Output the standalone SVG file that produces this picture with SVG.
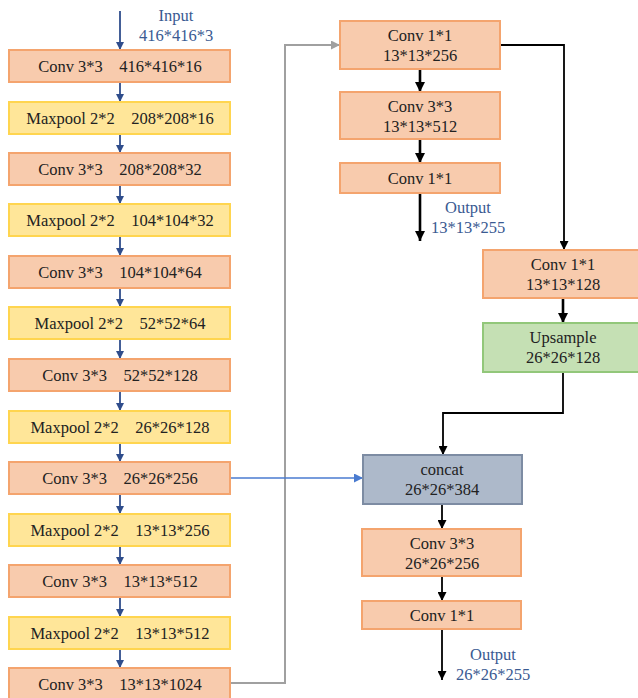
<svg xmlns="http://www.w3.org/2000/svg" width="638" height="698" viewBox="0 0 638 698">
<defs>
<style>
.t{font-family:"Liberation Serif","Times New Roman",serif;font-size:16.5px;fill:#222;text-anchor:middle;white-space:pre}
.lbl{font-family:"Liberation Serif","Times New Roman",serif;font-size:16.5px;fill:#3A5A92;text-anchor:middle}
.or{fill:#F8CBAD;stroke:#F4A46E;stroke-width:2}
.ye{fill:#FFE699;stroke:#FFD54F;stroke-width:2}
.gr{fill:#C5E0B4;stroke:#92C77A;stroke-width:2}
.ct{fill:#ADB9CA;stroke:#7D8CA3;stroke-width:2}
.ab{stroke:#2F4D8C;stroke-width:1.8;fill:none}
.ak{stroke:#000;stroke-width:2.6;fill:none}
.ak2{stroke:#000;stroke-width:1.8;fill:none}
.ag{stroke:#A0A0A0;stroke-width:2;fill:none}
.al{stroke:#4A7BD0;stroke-width:1.5;fill:none}
</style>
<marker id="mb" viewBox="0 0 10 10" refX="10" refY="5" markerWidth="8" markerHeight="8" markerUnits="userSpaceOnUse" orient="auto"><path d="M0,0 L10,5 L0,10 z" fill="#2F4D8C"/></marker>
<marker id="mk" viewBox="0 0 10 10" refX="10" refY="5" markerWidth="10" markerHeight="10" markerUnits="userSpaceOnUse" orient="auto"><path d="M0,0 L10,5 L0,10 z" fill="#000"/></marker>
<marker id="mk2" viewBox="0 0 10 10" refX="10" refY="5" markerWidth="9" markerHeight="9" markerUnits="userSpaceOnUse" orient="auto"><path d="M0,0 L10,5 L0,10 z" fill="#000"/></marker>
<marker id="mg" viewBox="0 0 10 10" refX="10" refY="5" markerWidth="9" markerHeight="9" markerUnits="userSpaceOnUse" orient="auto"><path d="M0,0 L10,5 L0,10 z" fill="#A0A0A0"/></marker>
<marker id="ml" viewBox="0 0 10 10" refX="10" refY="5" markerWidth="9" markerHeight="9" markerUnits="userSpaceOnUse" orient="auto"><path d="M0,0 L10,5 L0,10 z" fill="#4A7BD0"/></marker>
</defs>
<rect width="638" height="698" fill="#fff"/>

<g id="connectors">
<line class="ab" x1="120" y1="11" x2="120" y2="50" marker-end="url(#mb)"/>
<line class="ab" x1="120" y1="82" x2="120" y2="102" marker-end="url(#mb)"/>
<line class="ab" x1="120" y1="134" x2="120" y2="153" marker-end="url(#mb)"/>
<line class="ab" x1="120" y1="185" x2="120" y2="204" marker-end="url(#mb)"/>
<line class="ab" x1="120" y1="236" x2="120" y2="256" marker-end="url(#mb)"/>
<line class="ab" x1="120" y1="288" x2="120" y2="307" marker-end="url(#mb)"/>
<line class="ab" x1="120" y1="339" x2="120" y2="359" marker-end="url(#mb)"/>
<line class="ab" x1="120" y1="391" x2="120" y2="411" marker-end="url(#mb)"/>
<line class="ab" x1="120" y1="443" x2="120" y2="462" marker-end="url(#mb)"/>
<line class="ab" x1="120" y1="494" x2="120" y2="514" marker-end="url(#mb)"/>
<line class="ab" x1="120" y1="546" x2="120" y2="565" marker-end="url(#mb)"/>
<line class="ab" x1="120" y1="597" x2="120" y2="617" marker-end="url(#mb)"/>
<line class="ab" x1="120" y1="649" x2="120" y2="668" marker-end="url(#mb)"/>
<polyline class="ag" points="230,683 285,683 285,45 340,45" marker-end="url(#mg)"/>
<line class="al" x1="230" y1="478" x2="363" y2="478" marker-end="url(#ml)"/>
<line class="ak" x1="420" y1="69" x2="420" y2="92" marker-end="url(#mk)"/>
<line class="ak" x1="420" y1="139" x2="420" y2="163" marker-end="url(#mk)"/>
<line class="ak" x1="420" y1="193" x2="420" y2="241" marker-end="url(#mk)"/>
<polyline class="ak2" points="499,45 564,45 564,250" marker-end="url(#mk2)"/>
<line class="ak" x1="563" y1="298" x2="563" y2="323" marker-end="url(#mk)"/>
<polyline class="ak2" points="563,372 563,413 443,413 443,455" marker-end="url(#mk2)"/>
<line class="ak2" x1="442" y1="504" x2="442" y2="529" marker-end="url(#mk2)"/>
<line class="ak2" x1="442" y1="576" x2="442" y2="601" marker-end="url(#mk2)"/>
<line class="ak2" x1="442" y1="629" x2="442" y2="680" marker-end="url(#mk2)"/>
</g>

<g id="input-label"><text class="lbl" x="176" y="21">Input</text><text class="lbl" x="176" y="41">416*416*3</text></g>

<g id="l1"><rect class="or" x="9" y="50" width="221" height="32"/><text class="t" x="120" y="72">Conv 3*3    416*416*16</text></g>
<g id="l2"><rect class="ye" x="9" y="102" width="221" height="32"/><text class="t" x="120" y="124">Maxpool 2*2    208*208*16</text></g>
<g id="l3"><rect class="or" x="9" y="153" width="221" height="32"/><text class="t" x="120" y="175">Conv 3*3    208*208*32</text></g>
<g id="l4"><rect class="ye" x="9" y="204" width="221" height="32"/><text class="t" x="120" y="226">Maxpool 2*2    104*104*32</text></g>
<g id="l5"><rect class="or" x="9" y="256" width="221" height="32"/><text class="t" x="120" y="278">Conv 3*3    104*104*64</text></g>
<g id="l6"><rect class="ye" x="9" y="307" width="221" height="32"/><text class="t" x="120" y="329">Maxpool 2*2    52*52*64</text></g>
<g id="l7"><rect class="or" x="9" y="359" width="221" height="32"/><text class="t" x="120" y="381">Conv 3*3    52*52*128</text></g>
<g id="l8"><rect class="ye" x="9" y="411" width="221" height="32"/><text class="t" x="120" y="433">Maxpool 2*2    26*26*128</text></g>
<g id="l9"><rect class="or" x="9" y="462" width="221" height="32"/><text class="t" x="120" y="484">Conv 3*3    26*26*256</text></g>
<g id="l10"><rect class="ye" x="9" y="514" width="221" height="32"/><text class="t" x="120" y="536">Maxpool 2*2    13*13*256</text></g>
<g id="l11"><rect class="or" x="9" y="565" width="221" height="32"/><text class="t" x="120" y="587">Conv 3*3    13*13*512</text></g>
<g id="l12"><rect class="ye" x="9" y="617" width="221" height="32"/><text class="t" x="120" y="639">Maxpool 2*2    13*13*512</text></g>
<g id="l13"><rect class="or" x="9" y="668" width="221" height="32"/><text class="t" x="120" y="690">Conv 3*3    13*13*1024</text></g>

<g id="r1"><rect class="or" x="340" y="21" width="160" height="48"/><text class="t" x="420" y="41">Conv 1*1</text><text class="t" x="420" y="61">13*13*256</text></g>
<g id="r2"><rect class="or" x="340" y="92" width="160" height="47"/><text class="t" x="420" y="112">Conv 3*3</text><text class="t" x="420" y="132">13*13*512</text></g>
<g id="r3"><rect class="or" x="340" y="163" width="160" height="30"/><text class="t" x="420" y="184">Conv 1*1</text></g>
<g id="out1"><text class="lbl" x="468" y="213">Output</text><text class="lbl" x="468" y="233">13*13*255</text></g>
<g id="r4"><rect class="or" x="483" y="250" width="160" height="48"/><text class="t" x="563" y="270">Conv 1*1</text><text class="t" x="563" y="290">13*13*128</text></g>
<g id="r5"><rect class="gr" x="483" y="323" width="160" height="49"/><text class="t" x="563" y="343">Upsample</text><text class="t" x="563" y="363">26*26*128</text></g>
<g id="concat"><rect class="ct" x="363" y="455" width="159" height="49"/><text class="t" x="442" y="475">concat</text><text class="t" x="442" y="495">26*26*384</text></g>
<g id="r6"><rect class="or" x="362" y="529" width="159" height="47"/><text class="t" x="442" y="549">Conv 3*3</text><text class="t" x="442" y="569">26*26*256</text></g>
<g id="r7"><rect class="or" x="362" y="601" width="159" height="28"/><text class="t" x="442" y="621">Conv 1*1</text></g>
<g id="out2"><text class="lbl" x="493" y="660">Output</text><text class="lbl" x="493" y="680">26*26*255</text></g>
</svg>
